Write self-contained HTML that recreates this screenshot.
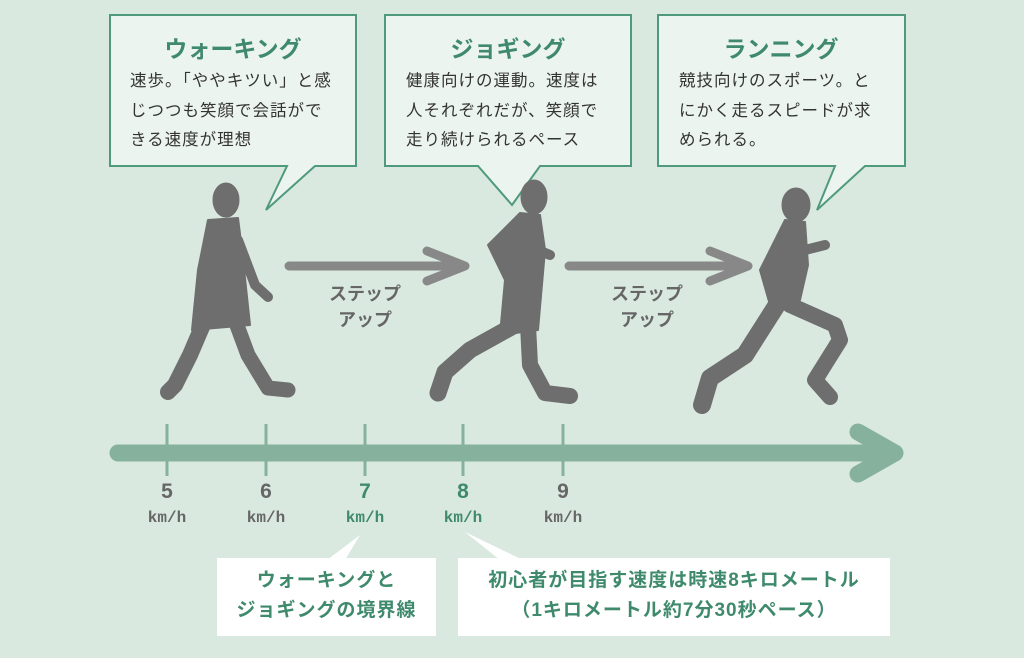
<!DOCTYPE html>
<html><head><meta charset="utf-8"><style>
body{margin:0;width:1024px;height:658px;background:#d9e9e0;overflow:hidden;font-family:"Liberation Sans","Noto Sans CJK JP",sans-serif;}
svg{position:absolute;left:0;top:0}
.t{position:absolute;font-family:"Liberation Sans","Noto Sans CJK JP",sans-serif}
.h{color:#3f8a6c;font-weight:bold;font-size:23px;text-align:center;width:246px}
.b{color:#333;font-size:16.5px;line-height:29.5px;width:240px;white-space:nowrap;letter-spacing:1px}
.n{color:#666;font-weight:bold;text-align:center;width:60px;font-size:21px;line-height:24px}
.n span{font-size:16px;font-family:"Liberation Mono",monospace}
.g{color:#3f8a6c}
.s{color:#666;font-weight:bold;font-size:18px;text-align:center;width:100px;line-height:26px}
.bx{position:absolute;background:#fff;color:#3f8a6c;font-weight:bold;font-size:19px;text-align:center;line-height:30px;letter-spacing:1px}
</style></head><body>
<svg width="1024" height="658">
<g fill="#ecf4ef" stroke="#4f9a7c" stroke-width="2">
<path d="M110 15H356V166H315L266 210L287 166H110Z"/>
<path d="M385 15H631V166H540L512 205L478 166H385Z"/>
<path d="M658 15H905V166H865L817 210L835 166H658Z"/>
</g>
<g stroke="#888" stroke-width="9" stroke-linecap="round" fill="none" stroke-linejoin="round">
<path d="M289 266H465M427 251L465 266L427 281"/>
<path d="M569 266H748M710 251L748 266L710 281"/>
</g>
<g stroke="#86b29d" stroke-width="3">
<line x1="167" y1="424" x2="167" y2="476"/><line x1="266" y1="424" x2="266" y2="476"/><line x1="365" y1="424" x2="365" y2="476"/><line x1="463" y1="424" x2="463" y2="476"/><line x1="563" y1="424" x2="563" y2="476"/>
</g>
<g stroke="#86b29d" stroke-width="17" stroke-linecap="round" fill="none" stroke-linejoin="round">
<path d="M118 453H895M858 432L895 453L858 474"/>
</g>
<g fill="#fff"><path d="M327 560L360 535L345 560Z"/><path d="M465 532L523 560H500Z"/></g>
<g fill="#6e6e6e" stroke="#6e6e6e" stroke-linecap="round" stroke-linejoin="round">
<ellipse cx="226" cy="200" rx="13" ry="17"/>
<path d="M208 220L238 218L242 250L250 325L192 330L198 270Z" stroke-width="2"/>
<path d="M238 240L255 285L268 297" stroke-width="10" fill="none"/>
<path d="M205 320L190 355L175 385L168 392" stroke-width="16" fill="none"/>
<path d="M235 320L248 355L268 388L288 390" stroke-width="15" fill="none"/>
<ellipse cx="534" cy="197" rx="13" ry="17"/>
<path d="M520 213L540 215L545 250L538 330L500 335L505 280L488 245Z" stroke-width="2"/>
<path d="M538 250L550 255" stroke-width="10" fill="none"/>
<path d="M515 325L470 350L445 372L438 393" stroke-width="17" fill="none"/>
<path d="M528 325L530 365L545 393L570 396" stroke-width="16" fill="none"/>
<ellipse cx="796" cy="205" rx="14" ry="17"/>
<path d="M785 220L805 222L808 265L800 300L770 305L760 270Z" stroke-width="2"/>
<path d="M805 250L825 245" stroke-width="10" fill="none"/>
<path d="M768 275L775 305" stroke-width="10" fill="none"/>
<path d="M780 300L745 355L710 378L702 405" stroke-width="18" fill="none"/>
<path d="M790 305L835 325L840 340L815 380L830 397" stroke-width="16" fill="none"/>
</g>
</svg>
<div class="t h" style="left:110px;top:30px">ウォーキング</div>
<div class="t b" style="left:130px;top:67px">速歩。「ややキツい」と感<br>じつつも笑顔で会話がで<br>きる速度が理想</div>
<div class="t h" style="left:385px;top:30px">ジョギング</div>
<div class="t b" style="left:406px;top:67px">健康向けの運動。速度は<br>人それぞれだが、笑顔で<br>走り続けられるペース</div>
<div class="t h" style="left:658px;top:30px">ランニング</div>
<div class="t b" style="left:679px;top:67px">競技向けのスポーツ。と<br>にかく走るスピードが求<br>められる。</div>
<div class="t s" style="left:315px;top:281px">ステップ<br>アップ</div>
<div class="t s" style="left:597px;top:281px">ステップ<br>アップ</div>
<div class="t n" style="left:137px;top:480px">5<br><span>km/h</span></div>
<div class="t n" style="left:236px;top:480px">6<br><span>km/h</span></div>
<div class="t n g" style="left:335px;top:480px">7<br><span>km/h</span></div>
<div class="t n g" style="left:433px;top:480px">8<br><span>km/h</span></div>
<div class="t n" style="left:533px;top:480px">9<br><span>km/h</span></div>
<div class="bx" style="left:217px;top:558px;width:219px;height:78px;padding-top:8px;box-sizing:border-box">ウォーキングと<br>ジョギングの境界線</div>
<div class="bx" style="left:458px;top:558px;width:432px;height:78px;padding-top:8px;box-sizing:border-box">初心者が目指す速度は時速8キロメートル<br>（1キロメートル約7分30秒ペース）</div>
</body></html>
